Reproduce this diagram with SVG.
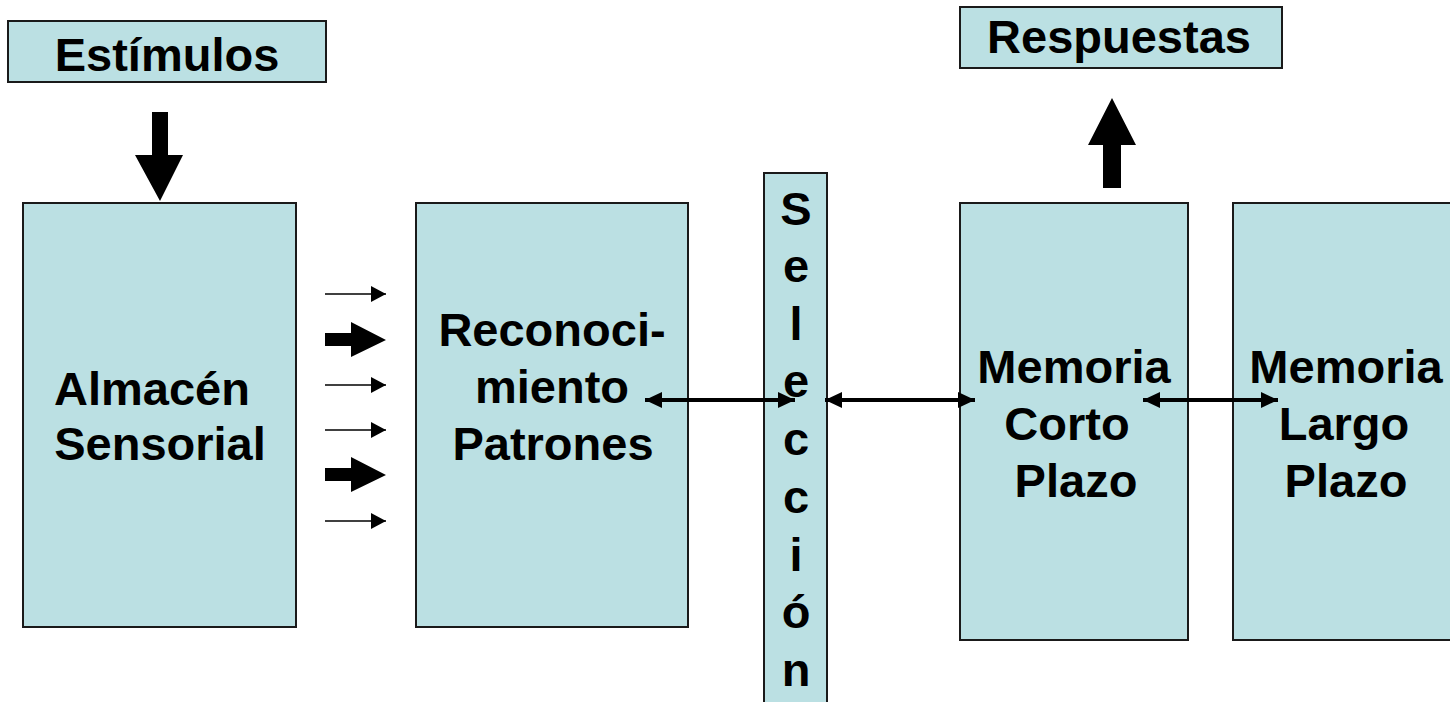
<svg xmlns="http://www.w3.org/2000/svg" width="1450" height="702" viewBox="0 0 1450 702">
  <style>
    .box { fill: #BBE0E3; stroke: #1a1a1a; stroke-width: 2; }
    .lbl { font-family: "Liberation Sans", Arial, sans-serif; font-weight: bold; font-size: 47px; fill: #000; }
    .mid { text-anchor: middle; }
    .thin { stroke: #000; stroke-width: 1.6; fill: none; }
    .dbl { stroke: #000; stroke-width: 4; fill: none; }
    .solid { fill: #000; stroke: none; }
  </style>
  <defs>
    <marker id="hd" viewBox="0 0 17 16" refX="17" refY="8" markerWidth="17" markerHeight="16" markerUnits="userSpaceOnUse" orient="auto-start-reverse">
      <path d="M0,0 L17,8 L0,16 Z" fill="#000"/>
    </marker>
    <marker id="hs" viewBox="0 0 15 16" refX="15" refY="8" markerWidth="15" markerHeight="16" markerUnits="userSpaceOnUse" orient="auto">
      <path d="M0,0 L15,8 L0,16 Z" fill="#000"/>
    </marker>
  </defs>

  <rect width="1450" height="702" fill="#fff"/>

  <g id="estimulos">
    <rect class="box" x="8" y="21" width="318" height="61"/>
    <text class="lbl mid" x="167" y="71">Estímulos</text>
  </g>

  <g id="respuestas">
    <rect class="box" x="960" y="7" width="322" height="61"/>
    <text class="lbl mid" x="1119" y="53">Respuestas</text>
  </g>

  <g id="almacen-sensorial">
    <rect class="box" x="23" y="203" width="273" height="424"/>
    <text class="lbl" x="54" y="405">Almacén</text>
    <text class="lbl mid" x="160" y="460">Sensorial</text>
  </g>

  <g id="reconocimiento-patrones">
    <rect class="box" x="416" y="203" width="272" height="424"/>
    <text class="lbl mid" x="552" y="346">Reconoci-</text>
    <text class="lbl mid" x="552" y="403">miento</text>
    <text class="lbl mid" x="553" y="460">Patrones</text>
  </g>

  <g id="seleccion">
    <rect class="box" x="764" y="173" width="63" height="540"/>
    <text class="lbl mid" x="796" y="225">S</text>
    <text class="lbl mid" x="796" y="282">e</text>
    <text class="lbl mid" x="796" y="340">l</text>
    <text class="lbl mid" x="796" y="397">e</text>
    <text class="lbl mid" x="796" y="455">c</text>
    <text class="lbl mid" x="796" y="513">c</text>
    <text class="lbl mid" x="796" y="571">i</text>
    <text class="lbl mid" x="796" y="628">ó</text>
    <text class="lbl mid" x="796" y="686">n</text>
  </g>

  <g id="memoria-corto-plazo">
    <rect class="box" x="960" y="203" width="228" height="437"/>
    <text class="lbl mid" x="1074" y="383">Memoria</text>
    <text class="lbl mid" x="1067" y="440">Corto</text>
    <text class="lbl mid" x="1076" y="497">Plazo</text>
  </g>

  <g id="memoria-largo-plazo">
    <rect class="box" x="1233" y="203" width="226" height="437"/>
    <text class="lbl mid" x="1346" y="383">Memoria</text>
    <text class="lbl mid" x="1344" y="440">Largo</text>
    <text class="lbl mid" x="1346" y="497">Plazo</text>
  </g>

  <g id="connectors">
    <!-- stimulus input / response output -->
    <path class="solid" d="M152,112 H168 V155 H183 L160,201 L135,155 H152 Z"/>
    <path class="solid" d="M1103,188 H1121 V145 H1136 L1112,98 L1088,145 H1103 Z"/>

    <!-- sensory flow into pattern recognition -->
    <line class="thin" x1="325" y1="294" x2="386" y2="294" marker-end="url(#hs)"/>
    <path class="solid" d="M325,333 H351 V322 L386,340 L351,357 V346 H325 Z"/>
    <line class="thin" x1="325" y1="385" x2="386" y2="385" marker-end="url(#hs)"/>
    <line class="thin" x1="325" y1="430" x2="386" y2="430" marker-end="url(#hs)"/>
    <path class="solid" d="M325,468 H351 V457 L386,475 L351,492 V481 H325 Z"/>
    <line class="thin" x1="325" y1="521" x2="386" y2="521" marker-end="url(#hs)"/>

    <!-- two-way links -->
    <line class="dbl" x1="645" y1="400" x2="795" y2="400" marker-start="url(#hd)" marker-end="url(#hd)"/>
    <line class="dbl" x1="825" y1="400" x2="975" y2="400" marker-start="url(#hd)" marker-end="url(#hd)"/>
    <line class="dbl" x1="1143" y1="400" x2="1278" y2="400" marker-start="url(#hd)" marker-end="url(#hd)"/>
  </g>
</svg>
